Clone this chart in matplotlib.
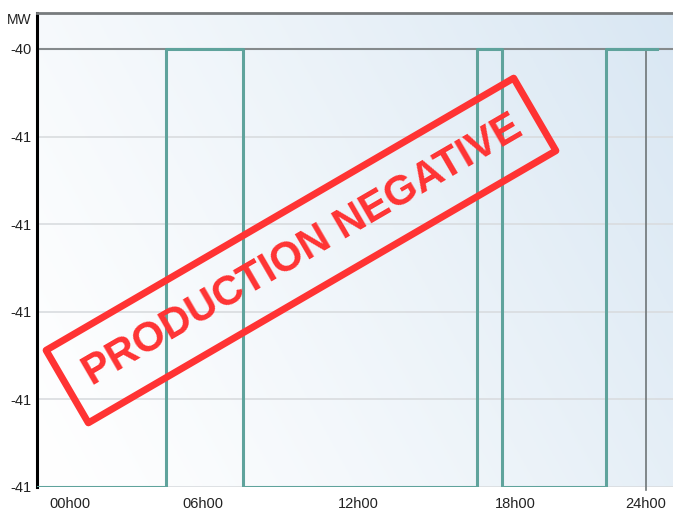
import numpy as np
import matplotlib
matplotlib.use("Agg")
from matplotlib import pyplot as plt
from matplotlib.patches import Rectangle

# step series (hours, MW)
hours = [-1.4, 4.0, 7.2, 16.96, 18.0, 22.33, 24.46]
power = [-41, -40, -41, -40, -41, -40, -40]

y_ticks = [-41.0, -40.8, -40.6, -40.4, -40.2, -40.0]
y_labels = ['-41', '-41', '-41', '-41', '-41', '-40']
x_ticks = [0, 5.55, 12, 18.55, 24]
x_labels = ['00h00', '06h00', '12h00', '18h00', '24h00']
now_hour = 24.0
stamp_text = 'PRODUCTION NEGATIVE'

plt.rcParams['font.family'] = ['Liberation Sans', 'DejaVu Sans']

fig = plt.figure(figsize=(6.73, 5.13), dpi=100)
ax = fig.add_axes([37 / 673, 1 - 487 / 513, 1 - 37 / 673, (487 - 13) / 513])

# background gradient, white bottom-left to pale blue top-right
gx, gy = np.meshgrid(np.linspace(0, 1, 200), np.linspace(0, 1, 200))
g = np.clip((gx * 0.85 + gy * 0.35) / 1.2, 0, 1) ** 1.2
c0 = np.array([1.0, 1.0, 1.0])
c1 = np.array([0.850, 0.905, 0.952])
img = c0 + (c1 - c0) * g[..., None]
ax.imshow(img, extent=[0, 1, 0, 1], transform=ax.transAxes, origin='lower',
          aspect='auto', zorder=0)

ax.set_xlim(-1.375, 25.125)
ax.set_ylim(-41, -39.918)

for yv in y_ticks[:-1]:
    ax.axhline(yv, color='#d9dcdf', lw=1.2, zorder=1)
ax.axhline(y_ticks[-1], color='#858a8c', lw=1.5, zorder=1)

ax.plot([now_hour, now_hour], [-41.006, -40], color='#6e7577', lw=1.2, zorder=2,
        clip_on=False)
ax.step(hours, power, where='post', color='#5fa39c', lw=2.2, zorder=3)

for side in ['right', 'bottom']:
    ax.spines[side].set_visible(False)
ax.spines['left'].set_color('black')
ax.spines['left'].set_linewidth(2.2)
ax.spines['top'].set_color('#777b7d')
ax.spines['top'].set_linewidth(2.0)

ax.set_yticks(y_ticks)
ax.set_yticklabels(y_labels)
ax.set_xticks(x_ticks)
ax.set_xticklabels(x_labels)
ax.tick_params(axis='y', length=0, pad=4, labelsize=10.5, labelcolor='#222222')
ax.tick_params(axis='x', length=0, pad=7, labelsize=10.5, labelcolor='#222222')

fig.text(7 / 673, 1 - 20 / 513, 'MW', fontsize=10, color='#222222',
         ha='left', va='center')

# red stamp
cx, cy = 3.01, (513 - 250.5) / 100
w, h, ang = 5.41, 0.84, 30.2
stamp = Rectangle((cx - w / 2, cy - h / 2), w, h, angle=ang, rotation_point='center',
                  fill=False, edgecolor='#ff3333', lw=5, joinstyle='round',
                  transform=fig.dpi_scale_trans, zorder=10)
fig.add_artist(stamp)
fig.text(cx + 0.02, cy + 0.0, stamp_text, transform=fig.dpi_scale_trans, rotation=ang,
         rotation_mode='anchor', ha='center', va='center', fontsize=30,
         fontweight='bold', color='#ff3333', zorder=11)

fig.savefig('out.png', dpi=100)
